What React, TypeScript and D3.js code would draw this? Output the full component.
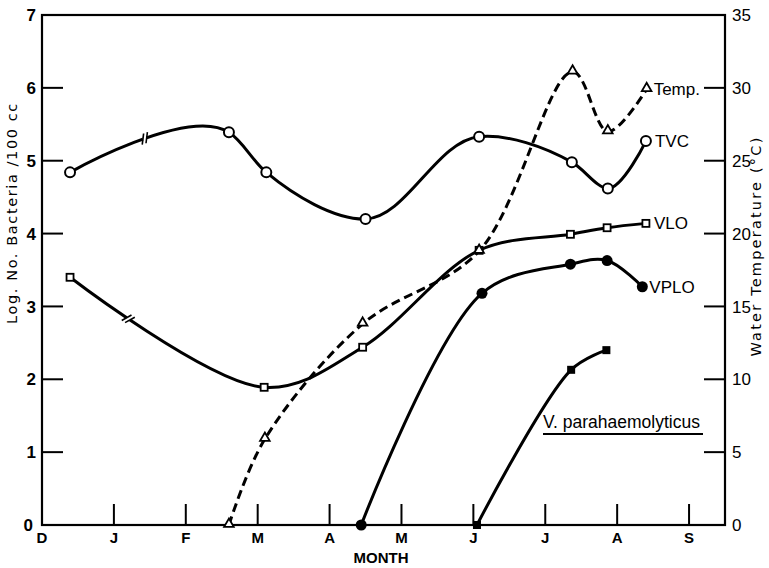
import React, { useEffect, useRef } from "react";
import * as d3 from "d3";

const monthLabels = ["D", "J", "F", "M", "A", "M", "J", "J", "A", "S"];
const leftTicks = [0, 1, 2, 3, 4, 5, 6, 7];
const rightTicks = [0, 5, 10, 15, 20, 25, 30, 35];

// x in months from start of December
const tvcX = [0.39, 2.6, 3.12, 4.5, 6.08, 7.37, 7.87, 8.4];
const tvcY = [4.84, 5.39, 4.84, 4.2, 5.33, 4.98, 4.62, 5.27];

const tempX = [2.6, 3.1, 4.46, 6.08, 7.38, 7.87, 8.41];
const tempY = [0, 5.9, 13.8, 18.8, 31.1, 27.0, 29.9];

const vloX = [0.39, 3.09, 4.46, 6.08, 7.35, 7.86, 8.4];
const vloY = [3.4, 1.89, 2.44, 3.77, 3.99, 4.08, 4.14];

const vploX = [4.44, 6.12, 7.35, 7.86, 8.35];
const vploY = [0, 3.18, 3.58, 3.63, 3.27];

const vpX = [6.05, 7.36, 7.85];
const vpY = [0, 2.13, 2.4];

const breakTVC = 1.43;
const breakVLO = 1.2;

const W = 769, H = 568;
const L = 42, R = 725, T = 15, B = 525;

export default function App() {
  const ref = useRef<SVGSVGElement>(null);
  useEffect(() => {
    const svg = d3.select(ref.current);
    svg.selectAll("*").remove();
    const x = d3.scaleLinear().domain([0, 9.5]).range([L, R]);
    const y = d3.scaleLinear().domain([0, 7]).range([B, T]);
    const yr = d3.scaleLinear().domain([0, 35]).range([B, T]);
    const font = "Liberation Sans, Arial, sans-serif";
    const wide = "DejaVu Sans, sans-serif";
    const g = svg.append("g");

    // frame
    g.append("rect").attr("x", L).attr("y", T).attr("width", R - L).attr("height", B - T)
      .attr("fill", "none").attr("stroke", "#000").attr("stroke-width", 2.2);

    // left ticks
    leftTicks.forEach(v => {
      if (v > 0 && v < 7) g.append("line").attr("x1", L).attr("x2", L + 21).attr("y1", y(v)).attr("y2", y(v))
        .attr("stroke", "#000").attr("stroke-width", 2);
      g.append("text").attr("x", v === 0 ? 33 : 36).attr("y", y(v)).attr("dy", "0.36em")
        .attr("text-anchor", "end").attr("font-family", font).attr("font-size", 17).attr("font-weight", "bold")
        .text(String(v));
    });
    // right ticks
    rightTicks.forEach(v => {
      if (v > 0 && v < 35) g.append("line").attr("x1", R).attr("x2", R - 21).attr("y1", yr(v)).attr("y2", yr(v))
        .attr("stroke", "#000").attr("stroke-width", 2);
      g.append("text").attr("x", R + 7).attr("y", yr(v)).attr("dy", "0.36em")
        .attr("text-anchor", "start").attr("font-family", font).attr("font-size", 17)
        .text(String(v));
    });
    // month ticks
    monthLabels.forEach((m, i) => {
      if (i > 0) g.append("line").attr("x1", x(i)).attr("x2", x(i)).attr("y1", B).attr("y2", B - 21)
        .attr("stroke", "#000").attr("stroke-width", 2);
      g.append("text").attr("x", x(i)).attr("y", B + 13).attr("dy", "0.36em")
        .attr("text-anchor", "middle").attr("font-family", font).attr("font-size", 15).attr("font-weight", "bold")
        .text(m);
    });
    g.append("text").attr("x", 381).attr("y", 558).attr("dy", "0.36em").attr("text-anchor", "middle")
      .attr("font-family", font).attr("font-size", 15).attr("font-weight", "bold").text("MONTH");
    g.append("text").attr("transform", `translate(17,${213}) rotate(-90)`).attr("text-anchor", "middle")
      .attr("font-family", wide).attr("font-size", 14.5).attr("letter-spacing", 1.6).text("Log. No. Bacteria /100 cc");
    g.append("text").attr("transform", `translate(761,${246}) rotate(-90)`).attr("text-anchor", "middle")
      .attr("font-family", wide).attr("font-size", 14.5).attr("letter-spacing", 2.2).text("Water Temperature (°C)");

    const mk = (xs: number[], ys: number[], ys_: d3.ScaleLinear<number, number>) =>
      xs.map((v, i) => [x(v), ys_(ys[i])] as [number, number]);
    const catm = d3.line().curve(d3.curveCatmullRom.alpha(0.5));
    const chord = d3.line().curve(d3.curveCatmullRom.alpha(1));

    const drawLine = (pts: [number, number][], gen: any, dashed = false) => {
      const p = g.append("path").attr("d", gen(pts)).attr("fill", "none").attr("stroke", "#000")
        .attr("stroke-width", 3).attr("stroke-linecap", "butt");
      if (dashed) p.attr("stroke-dasharray", "9,5");
      return p.node() as SVGPathElement;
    };

    const tvcPts = mk(tvcX, tvcY, y);
    const tempPts = mk(tempX, tempY, yr);
    const vloPts = mk(vloX, vloY, y);
    const vploPts = mk(vploX, vploY, y);
    const vpPts = mk(vpX, vpY, y);

    const tvcPath = drawLine(tvcPts, chord);
    drawLine(tempPts, catm, true);
    const vloPath = drawLine(vloPts, catm);
    drawLine(vploPts, catm);
    drawLine(vpPts, catm);

    const drawBreak = (path: SVGPathElement, mx: number) => {
      const tx = x(mx);
      const len = path.getTotalLength();
      let lo = 0, hi = len;
      for (let k = 0; k < 40; k++) {
        const mid = (lo + hi) / 2;
        if (path.getPointAtLength(mid).x < tx) lo = mid; else hi = mid;
      }
      const p0 = path.getPointAtLength(lo - 2), p1 = path.getPointAtLength(lo + 2);
      const pt = path.getPointAtLength(lo);
      const ang = Math.atan2(p1.y - p0.y, p1.x - p0.x) * 180 / Math.PI;
      const bg = g.append("g").attr("transform", `translate(${pt.x},${pt.y}) rotate(${ang})`);
      bg.append("rect").attr("x", -2).attr("y", -3).attr("width", 4).attr("height", 6).attr("fill", "#fff");
      [-2, 2].forEach(o => bg.append("line").attr("x1", o - 2.5).attr("y1", 5).attr("x2", o + 2.5).attr("y2", -5)
        .attr("stroke", "#000").attr("stroke-width", 1.6));
    };
    drawBreak(tvcPath, breakTVC);
    drawBreak(vloPath, breakVLO);

    // markers
    tvcPts.forEach(([px, py]) => g.append("circle").attr("cx", px).attr("cy", py).attr("r", 5)
      .attr("fill", "#fff").attr("stroke", "#000").attr("stroke-width", 2));
    vloPts.forEach(([px, py]) => g.append("rect").attr("x", px - 3.5).attr("y", py - 3.5).attr("width", 7).attr("height", 7)
      .attr("fill", "#fff").attr("stroke", "#000").attr("stroke-width", 1.8));
    const tri = d3.symbol().type(d3.symbolTriangle).size(40);
    tempPts.forEach(([px, py]) => g.append("path").attr("d", tri()).attr("transform", `translate(${px},${py - 1})`)
      .attr("fill", "#fff").attr("stroke", "#000").attr("stroke-width", 1.8));
    vploPts.forEach(([px, py]) => g.append("circle").attr("cx", px).attr("cy", py).attr("r", 5.5).attr("fill", "#000"));
    vpPts.forEach(([px, py]) => g.append("rect").attr("x", px - 4).attr("y", py - 4).attr("width", 8).attr("height", 8).attr("fill", "#000"));

    // series labels
    const lab = (txt: string, lx: number, ly: number) => g.append("text").attr("x", lx).attr("y", ly).attr("dy", "0.36em")
      .attr("font-family", font).attr("font-size", 17).text(txt);
    lab("Temp.", tempPts[tempPts.length - 1][0] + 7, tempPts[tempPts.length - 1][1]);
    lab("TVC", tvcPts[tvcPts.length - 1][0] + 9, tvcPts[tvcPts.length - 1][1]);
    lab("VLO", vloPts[vloPts.length - 1][0] + 8, vloPts[vloPts.length - 1][1]);
    lab("VPLO", vploPts[vploPts.length - 1][0] + 7, vploPts[vploPts.length - 1][1]);
    g.append("text").attr("x", 543).attr("y", 428).attr("font-family", font).attr("font-size", 17.5).text("V. parahaemolyticus");
    g.append("line").attr("x1", 543).attr("x2", 703).attr("y1", 434).attr("y2", 434).attr("stroke", "#000").attr("stroke-width", 1.8);
  }, []);
  return <svg ref={ref} width={W} height={H} style={{ position: "absolute", left: 0, top: 0 }} />;
}
